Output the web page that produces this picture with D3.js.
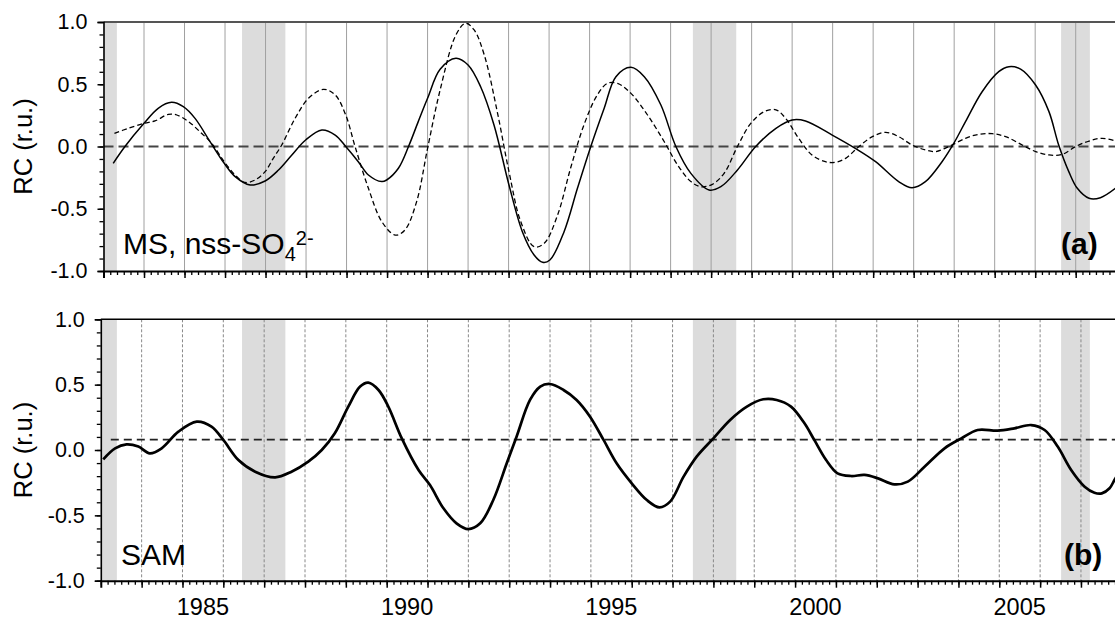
<!DOCTYPE html>
<html>
<head>
<meta charset="utf-8">
<script src="https://cdn.jsdelivr.net/npm/d3@7"></script>
<style>
  html, body { margin: 0; padding: 0; background: #fff; }
  svg { display: block; font-family: "Liberation Sans", Arial, Helvetica, sans-serif; }
</style>
</head>
<body>
<svg id="chart" width="1115" height="621"></svg>
<script>
// ---------------- DATA ----------------
// Panel (a): MS (solid) RC
const msYears  = [1982.74,1983.03,1983.5,1983.85,1984.18,1984.47,1984.76,1985.13,1985.48,1985.75,1986.12,1986.49,1986.82,1987.15,1987.49,1987.89,1988.22,1988.48,1988.79,1989.04,1989.37,1989.49,1989.78,1990.03,1990.27,1990.5,1990.81,1991.2,1991.5,1991.81,1992.14,1992.51,1992.84,1993.13,1993.34,1993.52,1993.87,1994.2,1994.53,1994.86,1995.15,1995.52,1995.85,1996.26,1996.63,1997.0,1997.45,1997.74,1998.15,1998.6,1999.1,1999.5,1999.83,2000.49,2001.06,2001.56,2002.13,2002.46,2002.79,2003.2,2003.49,2003.78,2004.19,2004.6,2004.85,2005.14,2005.51,2005.84,2006.08,2006.33,2006.54,2006.83,2007.11,2007.48];
const msValues = [-0.135,0.0,0.186,0.307,0.355,0.32,0.226,0.039,-0.135,-0.242,-0.309,-0.277,-0.189,-0.068,0.052,0.133,0.092,0.0,-0.122,-0.229,-0.282,-0.269,-0.175,0.0,0.2,0.387,0.62,0.708,0.654,0.48,0.173,-0.309,-0.684,-0.871,-0.93,-0.912,-0.684,-0.336,0.0,0.307,0.561,0.636,0.561,0.333,0.0,-0.216,-0.349,-0.323,-0.189,0.0,0.146,0.213,0.205,0.092,-0.015,-0.122,-0.282,-0.331,-0.282,-0.122,0.025,0.2,0.44,0.601,0.641,0.622,0.494,0.28,0.012,-0.202,-0.336,-0.416,-0.411,-0.336];

// Panel (a): nss-SO4 2- (dashed) RC
const nssYears  = [1982.77,1983.11,1983.5,1983.77,1984.1,1984.31,1984.6,1984.92,1985.17,1985.48,1985.75,1985.99,1986.24,1986.49,1986.69,1986.9,1987.23,1987.56,1987.93,1988.22,1988.48,1988.71,1989.04,1989.37,1989.7,1989.94,1990.23,1990.5,1990.81,1991.2,1991.44,1991.65,1991.9,1992.22,1992.51,1992.8,1993.13,1993.38,1993.71,1994.03,1994.36,1994.69,1994.94,1995.19,1995.52,1995.93,1996.34,1996.67,1997.0,1997.24,1997.53,1997.82,1998.15,1998.48,1998.81,1999.1,1999.34,1999.66,1999.99,2000.32,2000.57,2000.82,2001.15,2001.48,2001.81,2002.13,2002.46,2002.79,2003.04,2003.37,2003.78,2004.11,2004.44,2004.77,2005.18,2005.51,2005.84,2006.17,2006.5,2006.83,2007.15,2007.48];
const nssValues = [0.106,0.146,0.186,0.205,0.258,0.253,0.2,0.106,0.025,-0.122,-0.229,-0.288,-0.269,-0.202,-0.095,0.012,0.226,0.387,0.459,0.414,0.253,0.0,-0.336,-0.603,-0.711,-0.671,-0.443,-0.015,0.454,0.896,0.99,0.936,0.735,0.28,-0.202,-0.603,-0.805,-0.778,-0.55,-0.175,0.173,0.414,0.507,0.507,0.427,0.253,0.04,-0.147,-0.282,-0.323,-0.304,-0.216,0.0,0.186,0.28,0.295,0.226,0.066,-0.068,-0.122,-0.127,-0.095,0.0,0.079,0.114,0.079,0.012,-0.028,-0.041,0.0,0.066,0.098,0.103,0.079,0.012,-0.041,-0.068,-0.063,0.0,0.044,0.066,0.044];

// Panel (b): SAM RC
const samYears  = [1982.56,1982.85,1983.13,1983.42,1983.7,1983.99,1984.4,1984.85,1985.21,1985.5,1985.87,1986.28,1986.77,1987.17,1987.58,1987.91,1988.23,1988.56,1988.85,1989.05,1989.3,1989.54,1989.87,1990.28,1990.56,1990.89,1991.21,1991.5,1991.79,1992.11,1992.44,1992.68,1993.01,1993.26,1993.5,1993.83,1994.15,1994.48,1994.81,1995.13,1995.5,1995.87,1996.18,1996.44,1996.77,1997.09,1997.5,1997.91,1998.32,1998.72,1999.05,1999.4,1999.73,1999.97,2000.26,2000.54,2000.87,2001.2,2001.53,2001.93,2002.26,2002.67,2003.16,2003.57,2003.97,2004.46,2004.87,2005.28,2005.61,2005.93,2006.26,2006.59,2006.83,2007.01,2007.2,2007.32,2007.5];
const samValues = [-0.071,0.013,0.043,0.026,-0.026,0.013,0.14,0.217,0.179,0.077,-0.077,-0.166,-0.209,-0.166,-0.089,0.0,0.128,0.332,0.485,0.515,0.459,0.332,0.089,-0.153,-0.268,-0.446,-0.561,-0.605,-0.561,-0.383,-0.102,0.102,0.383,0.485,0.505,0.459,0.383,0.255,0.077,-0.102,-0.255,-0.383,-0.439,-0.395,-0.204,-0.051,0.089,0.23,0.332,0.388,0.383,0.332,0.204,0.077,-0.077,-0.179,-0.199,-0.191,-0.217,-0.263,-0.242,-0.128,0.013,0.089,0.153,0.148,0.166,0.191,0.153,0.026,-0.153,-0.281,-0.327,-0.332,-0.293,-0.23,-0.14];

const samReference = 0.08;   // dashed reference level in panel (b)
const msReference  = 0.0;    // dashed reference level in panel (a)

// Shaded periods (years)
const bandStarts = [1982.3, 1985.92, 1997.05, 2006.14];
const bandEnds   = [1982.83, 1986.99, 1998.12, 2006.85];

// Axis ticks and labels
const yMajorTicks = [-1.0, -0.5, 0.0, 0.5, 1.0];
const yMinorTicks = d3.range(-10, 11).map(d => d / 10);
const xLabelYears = [1985, 1990, 1995, 2000, 2005];
const gridYears   = d3.range(1983.5, 2007.5, 1);
const panelLabels = ["(a)", "(b)"];
const yAxisTitle  = "RC (r.u.)";

// ---------------- LAYOUT ----------------
const svg = d3.select("#chart");
const FONT = '"Liberation Sans", Arial, Helvetica, sans-serif';

const xTop = d3.scaleLinear().domain([1982.5, 2007.5]).range([103.5, 1116.2]);
const yTop = d3.scaleLinear().domain([-1, 1]).range([271, 22]);
const xBot = d3.scaleLinear().domain([1982.5, 2007.5]).range([100.8, 1121.8]);
const yBot = d3.scaleLinear().domain([-1, 1]).range([580.7, 319.3]);

const defs = svg.append("defs");
function clip(id, x, y) {
  defs.append("clipPath").attr("id", id).append("rect")
    .attr("x", x.range()[0]).attr("y", y.range()[1])
    .attr("width", x.range()[1] - x.range()[0])
    .attr("height", y.range()[0] - y.range()[1]);
}
clip("clipTop", xTop, yTop);
clip("clipBot", xBot, yBot);

const bands = bandStarts.map((s, i) => ({ s, e: bandEnds[i] }));

function panel(x, y, clipId, gridDash, opts) {
  const g = svg.append("g");
  const inner = g.append("g").attr("clip-path", `url(#${clipId})`);
  // shaded bands (shared pixel positions, from top-panel scale)
  inner.selectAll("rect.band").data(bands).join("rect")
    .attr("x", d => xTop(d.s)).attr("width", d => xTop(d.e) - xTop(d.s))
    .attr("y", y.range()[1]).attr("height", y.range()[0] - y.range()[1])
    .attr("fill", "#dcdcdc");
  // vertical grid lines
  inner.selectAll("line.grid").data(gridYears).join("line")
    .attr("x1", d => x(d)).attr("x2", d => x(d))
    .attr("y1", y.range()[1]).attr("y2", y.range()[0])
    .attr("stroke", opts.gridColor).attr("stroke-width", 1)
    .attr("stroke-dasharray", gridDash);
  // top border
  g.append("line")
    .attr("x1", x.range()[0]).attr("x2", x.range()[1])
    .attr("y1", y.range()[1]).attr("y2", y.range()[1])
    .attr("stroke", opts.topColor).attr("stroke-width", opts.topWidth);
  // y axis: minor + major ticks
  g.append("g").attr("transform", `translate(${x.range()[0]},0)`)
    .call(d3.axisLeft(y).tickValues(yMinorTicks).tickSize(4).tickFormat(""))
    .call(a => a.select(".domain").remove())
    .call(a => a.selectAll("line").attr("stroke", "#000").attr("stroke-width", 1.3));
  g.append("g").attr("transform", `translate(${x.range()[0]},0)`)
    .call(d3.axisLeft(y).tickValues(yMajorTicks).tickSize(6).tickPadding(10)
      .tickFormat(d3.format(".1f")))
    .call(a => a.select(".domain").attr("stroke", "#000").attr("stroke-width", 1.6))
    .call(a => a.selectAll("line").attr("stroke", "#000").attr("stroke-width", 1.5))
    .call(a => a.selectAll("text").attr("font-family", FONT).attr("font-size", 21.5)
      .attr("fill", "#000").text(d => d3.format(".1f")(d).replace("−", "-")));
  // x axis: minor ticks every 2 months + major ticks at year boundaries
  const minorX = d3.range(1982.5, 2007.5 + 1e-6, 1 / 6);
  g.append("g").attr("transform", `translate(0,${y.range()[0]})`)
    .call(d3.axisBottom(x).tickValues(minorX).tickSize(4).tickFormat(""))
    .call(a => a.select(".domain").remove())
    .call(a => a.selectAll("line").attr("stroke", "#000").attr("stroke-width", 1.3));
  const xAxis = d3.axisBottom(x).tickValues(gridYears).tickSize(7).tickFormat("");
  g.append("g").attr("transform", `translate(0,${y.range()[0]})`)
    .call(xAxis)
    .call(a => a.select(".domain").attr("stroke", "#000").attr("stroke-width", 2))
    .call(a => a.selectAll("line").attr("stroke", "#000").attr("stroke-width", 1.5));
  // y title
  const yc = (y.range()[0] + y.range()[1]) / 2;
  g.append("text")
    .attr("transform", `translate(32,${yc}) rotate(-90)`)
    .attr("text-anchor", "middle")
    .attr("font-family", FONT).attr("font-size", 25.5).attr("fill", "#000")
    .text(yAxisTitle);
  return { g, inner };
}

// ---------- Panel (a) ----------
const A = panel(xTop, yTop, "clipTop", null, { gridColor: "#a0a0a0", topColor: "#555", topWidth: 2 });
A.inner.append("line")
  .attr("x1", xTop(1982.5)).attr("x2", xTop(2007.5))
  .attr("y1", yTop(msReference)).attr("y2", yTop(msReference))
  .attr("stroke", "#444").attr("stroke-width", 2).attr("stroke-dasharray", "10,5");

const lineTop = d3.line().x(d => xTop(d[0])).y(d => yTop(d[1])).curve(d3.curveCatmullRom.alpha(0.5));
A.inner.append("path")
  .attr("d", lineTop(nssYears.map((t, i) => [t, nssValues[i]])))
  .attr("fill", "none").attr("stroke", "#000").attr("stroke-width", 1.3)
  .attr("stroke-dasharray", "5,3");
A.inner.append("path")
  .attr("d", lineTop(msYears.map((t, i) => [t, msValues[i]])))
  .attr("fill", "none").attr("stroke", "#000").attr("stroke-width", 1.5);

// MS, nss-SO4 2- label
const msLabel = A.g.append("text")
  .attr("x", 123).attr("y", 254)
  .attr("font-family", FONT).attr("font-size", 30).attr("fill", "#000");
msLabel.append("tspan").text("MS, nss-SO");
msLabel.append("tspan").attr("font-size", 20).attr("dy", 7).text("4");
msLabel.append("tspan").attr("font-size", 20).attr("dy", -16).text("2-");

A.g.append("text").attr("x", 1061).attr("y", 254)
  .attr("font-family", FONT).attr("font-size", 30).attr("font-weight", "bold")
  .attr("fill", "#000").text(panelLabels[0]);

// ---------- Panel (b) ----------
const B = panel(xBot, yBot, "clipBot", "3,2", { gridColor: "#888", topColor: "#000", topWidth: 1.6 });
B.inner.append("line")
  .attr("x1", xBot(1982.5) + 10).attr("x2", xBot(2007.5))
  .attr("y1", yBot(samReference)).attr("y2", yBot(samReference))
  .attr("stroke", "#222").attr("stroke-width", 1.8).attr("stroke-dasharray", "8,5");

const lineBot = d3.line().x(d => xBot(d[0])).y(d => yBot(d[1])).curve(d3.curveCatmullRom.alpha(0.5));
B.inner.append("path")
  .attr("d", lineBot(samYears.map((t, i) => [t, samValues[i]])))
  .attr("fill", "none").attr("stroke", "#000").attr("stroke-width", 2.7)
  .attr("stroke-linejoin", "round");

B.g.append("text").attr("x", 121).attr("y", 565)
  .attr("font-family", FONT).attr("font-size", 30).attr("fill", "#000").text("SAM");
B.g.append("text").attr("x", 1064).attr("y", 565)
  .attr("font-family", FONT).attr("font-size", 30).attr("font-weight", "bold")
  .attr("fill", "#000").text(panelLabels[1]);

// x labels (bottom panel only), centred on the year
B.g.selectAll("text.xl").data(xLabelYears).join("text")
  .attr("x", d => xBot(d)).attr("y", 615)
  .attr("text-anchor", "middle")
  .attr("font-family", FONT).attr("font-size", 23.5).attr("fill", "#000")
  .text(d => d);
</script>
</body>
</html>
